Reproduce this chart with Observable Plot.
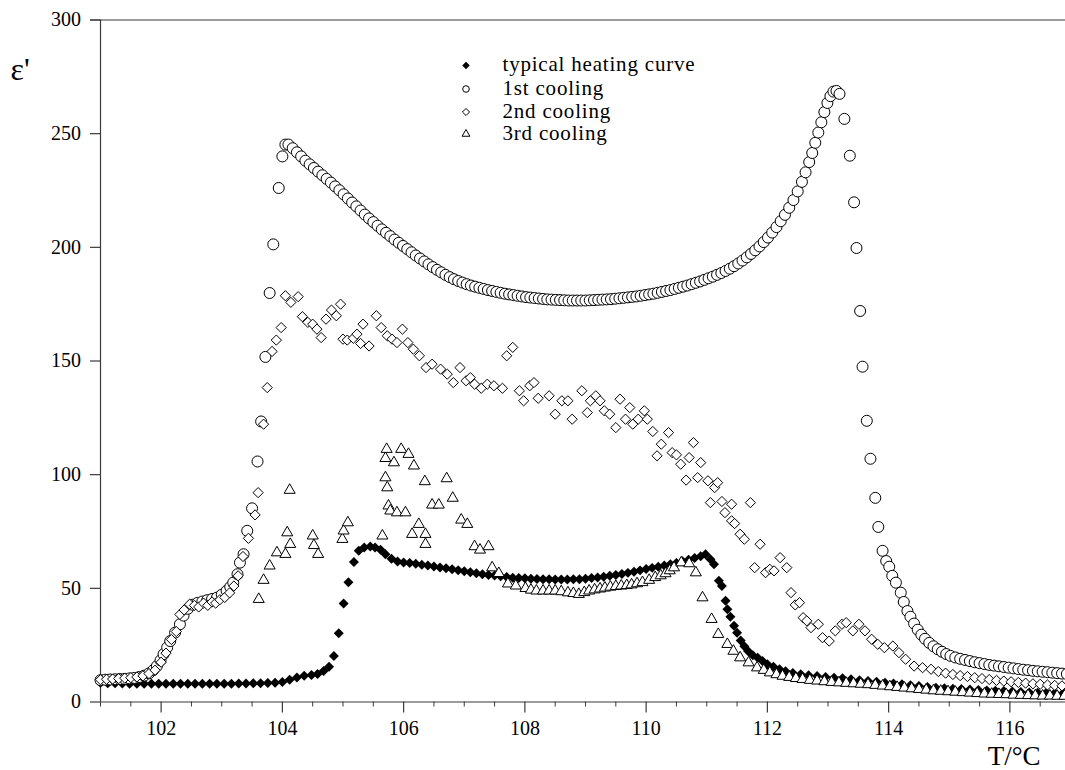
<!DOCTYPE html>
<html>
<head>
<meta charset="utf-8">
<script src="https://cdn.jsdelivr.net/npm/d3@7"></script>
<script src="https://cdn.jsdelivr.net/npm/@observablehq/plot@0.6"></script>
<style>
  html, body { margin: 0; padding: 0; background: #fff; }
  svg { display: block; }
</style>
</head>
<body>
<div id="chart"></div>
<script>
// ---- data (T in °C, ε') ----
const heating = [[101.00,8.5],[101.12,8.3],[101.24,8.2],[101.36,8.1],[101.48,8.0],[101.60,8.0],[101.72,8.0],[101.84,8.0],[101.96,8.0],[102.08,8.0],[102.20,8.0],[102.32,8.0],[102.44,8.0],[102.56,8.0],[102.68,8.0],[102.80,8.0],[102.92,8.0],[103.04,8.0],[103.16,8.0],[103.28,8.1],[103.40,8.1],[103.52,8.2],[103.64,8.3],[103.76,8.4],[103.88,8.5],[104.00,8.8],[104.12,9.8],[104.24,10.8],[104.36,11.5],[104.48,11.9],[104.58,12.3],[104.68,13.6],[104.77,15.5],[104.85,20.2],[104.93,30.2],[105.01,43.3],[105.09,52.7],[105.18,61.6],[105.26,66.5],[105.35,68.0],[105.45,68.4],[105.53,68.0],[105.62,67.0],[105.70,65.0],[105.80,63.0],[105.90,61.8],[106.0,61.4],[106.1,61.1],[106.2,60.8],[106.3,60.4],[106.4,60.0],[106.5,59.6],[106.6,59.2],[106.7,58.8],[106.8,58.4],[106.9,58.0],[107.0,57.5],[107.1,57.1],[107.2,56.6],[107.3,56.2],[107.4,55.9],[107.5,55.6],[107.6,55.3],[107.7,55.0],[107.8,54.7],[107.9,54.5],[108.0,54.4],[108.1,54.2],[108.2,54.1],[108.3,54.0],[108.4,54.0],[108.5,53.9],[108.6,53.9],[108.7,53.9],[108.8,54.0],[108.9,54.0],[109.0,54.2],[109.1,54.5],[109.2,54.8],[109.3,55.1],[109.4,55.5],[109.5,55.9],[109.6,56.3],[109.7,56.8],[109.8,57.3],[109.9,57.9],[110.0,58.5],[110.1,59.0],[110.2,59.5],[110.3,60.0],[110.4,60.6],[110.5,61.2],[110.6,61.9],[110.7,62.6],[110.8,63.3],[110.9,64.1],[110.98,65.0],[111.06,62.8],[111.12,60.6],[111.20,53.3],[111.25,51.0],[111.31,44.5],[111.34,40.8],[111.39,37.5],[111.45,33.5],[111.50,30.5],[111.56,27.0],[111.62,24.5],[111.68,22.4],[111.76,20.6],[111.84,19.5],[111.92,18.0],[112.00,16.6],[112.10,15.5],[112.20,14.4],[112.30,13.5],[112.42,12.8],[112.55,12.2],[112.68,11.8],[112.82,11.4],[112.96,11.0],[113.10,10.7],[113.24,10.4],[113.38,10.0],[113.52,9.6],[113.66,9.2],[113.80,8.9],[113.94,8.5],[114.08,8.1],[114.22,7.8],[114.36,7.4],[114.50,7.0],[114.64,6.6],[114.78,6.3],[114.92,6.0],[115.06,5.8],[115.20,5.7],[115.34,5.5],[115.48,5.3],[115.62,5.1],[115.76,4.9],[115.90,4.8],[116.04,4.6],[116.18,4.4],[116.32,4.2],[116.46,4.1],[116.60,4.1],[116.74,4.0],[116.88,4.0]];

const cooling1 = [[101.00,9.6],[101.08,9.8],[101.16,9.9],[101.24,10.0],[101.32,10.1],[101.40,10.2],[101.48,10.4],[101.56,10.6],[101.64,11.0],[101.72,11.6],[101.80,12.6],[101.87,14.0],[101.93,15.8],[101.99,18.3],[102.04,21.0],[102.10,24.0],[102.15,26.8],[102.23,30.5],[102.31,34.2],[102.37,38.0],[102.44,41.0],[102.52,42.8],[102.60,43.6],[102.68,44.2],[102.76,44.8],[102.84,45.3],[102.92,45.9],[103.00,47.2],[103.08,48.9],[103.14,50.6],[103.19,52.5],[103.26,56.2],[103.30,61.3],[103.36,65.0],[103.42,75.3],[103.50,85.2],[103.59,105.8],[103.65,123.4],[103.72,151.8],[103.79,179.9],[103.85,201.3],[103.94,226.1],[104.00,240.0],[104.05,245.2],[104.10,245.2],[104.17,243.6],[104.24,241.8],[104.31,240.0],[104.38,238.1],[104.45,236.5],[104.52,234.9],[104.59,233.3],[104.66,231.7],[104.73,230.1],[104.80,228.5],[104.87,226.8],[104.94,225.1],[105.01,223.3],[105.08,221.5],[105.15,219.7],[105.22,218.0],[105.29,216.2],[105.36,214.4],[105.43,212.7],[105.50,211.1],[105.57,209.5],[105.64,207.9],[105.71,206.4],[105.78,204.9],[105.85,203.4],[105.92,202.0],[105.99,200.6],[106.06,199.2],[106.13,197.8],[106.20,196.4],[106.27,195.1],[106.34,193.8],[106.41,192.5],[106.48,191.3],[106.55,190.1],[106.62,189.0],[106.69,187.9],[106.76,186.9],[106.83,186.0],[106.90,185.2],[106.97,184.5],[107.04,183.8],[107.11,183.2],[107.18,182.7],[107.25,182.2],[107.32,181.7],[107.39,181.2],[107.46,180.8],[107.53,180.4],[107.60,180.0],[107.67,179.6],[107.74,179.3],[107.81,179.0],[107.88,178.7],[107.95,178.4],[108.02,178.1],[108.09,177.9],[108.16,177.7],[108.23,177.5],[108.30,177.3],[108.37,177.1],[108.44,177.0],[108.51,176.9],[108.58,176.8],[108.65,176.7],[108.72,176.6],[108.79,176.6],[108.86,176.6],[108.93,176.6],[109.00,176.6],[109.07,176.7],[109.14,176.8],[109.21,176.9],[109.28,177.0],[109.35,177.1],[109.42,177.2],[109.49,177.4],[109.56,177.6],[109.63,177.8],[109.70,178.0],[109.77,178.2],[109.84,178.4],[109.91,178.7],[109.98,179.0],[110.05,179.3],[110.12,179.6],[110.19,180.0],[110.26,180.4],[110.33,180.8],[110.40,181.2],[110.47,181.7],[110.54,182.2],[110.61,182.7],[110.68,183.2],[110.75,183.8],[110.82,184.4],[110.89,185.0],[110.96,185.7],[111.03,186.4],[111.10,187.1],[111.17,187.9],[111.24,188.7],[111.31,189.6],[111.38,190.6],[111.45,191.7],[111.52,192.9],[111.59,194.2],[111.66,195.6],[111.73,197.1],[111.80,198.7],[111.87,200.4],[111.94,202.3],[112.01,204.3],[112.08,206.5],[112.15,208.9],[112.22,211.5],[112.29,214.3],[112.36,217.4],[112.43,220.8],[112.50,224.6],[112.57,228.8],[112.63,233.0],[112.69,237.5],[112.74,241.5],[112.79,246.0],[112.84,250.5],[112.89,255.0],[112.94,259.5],[112.99,263.5],[113.04,266.5],[113.09,268.5],[113.14,268.8],[113.19,267.5],[113.27,256.5],[113.36,240.3],[113.43,219.8],[113.47,199.7],[113.53,172.0],[113.57,147.5],[113.64,123.7],[113.70,107.0],[113.78,89.8],[113.83,77.0],[113.90,66.5],[113.96,62.0],[114.01,59.5],[114.06,55.5],[114.12,52.5],[114.20,48.1],[114.25,44.0],[114.31,40.0],[114.36,37.5],[114.42,34.5],[114.48,31.8],[114.54,29.6],[114.60,27.8],[114.67,26.0],[114.74,24.5],[114.81,23.2],[114.88,22.1],[114.95,21.1],[115.02,20.3],[115.10,19.6],[115.18,19.0],[115.26,18.5],[115.34,18.0],[115.42,17.5],[115.50,17.1],[115.58,16.7],[115.66,16.3],[115.74,16.0],[115.82,15.7],[115.90,15.4],[115.98,15.1],[116.06,14.8],[116.14,14.5],[116.22,14.2],[116.30,14.0],[116.38,13.7],[116.46,13.5],[116.54,13.3],[116.62,13.1],[116.70,12.9],[116.78,12.7],[116.86,12.5],[116.94,12.3]];

const cooling2 = [[101.00,9.8],[101.10,10.0],[101.20,10.1],[101.30,10.3],[101.40,10.5],[101.50,10.7],[101.60,11.0],[101.70,11.5],[101.80,12.5],[101.90,14.0],[102.00,17.5],[102.08,21.5],[102.17,27.5],[102.25,31.0],[102.31,38.5],[102.38,40.5],[102.47,43.0],[102.55,42.5],[102.62,41.8],[102.70,43.5],[102.77,42.5],[102.84,44.0],[102.90,43.5],[102.97,45.0],[103.05,46.0],[103.13,48.0],[103.20,51.0],[103.27,55.5],[103.35,64.0],[103.44,72.0],[103.55,82.3],[103.60,92.1],[103.69,122.2],[103.75,138.3],[103.83,154.2],[103.90,159.2],[103.98,164.7],[104.05,178.7],[104.14,175.8],[104.26,178.3],[104.33,169.5],[104.42,167.0],[104.50,166.2],[104.57,164.0],[104.64,160.3],[104.72,168.4],[104.81,172.4],[104.89,169.9],[104.96,175.0],[105.00,159.6],[105.07,159.2],[105.17,160.0],[105.23,161.8],[105.29,157.7],[105.33,166.2],[105.43,156.6],[105.55,169.9],[105.63,164.7],[105.73,161.1],[105.81,159.6],[105.89,158.1],[105.98,164.0],[106.07,158.1],[106.16,155.2],[106.26,152.3],[106.37,147.1],[106.47,148.6],[106.61,146.4],[106.72,144.2],[106.82,140.5],[106.93,147.1],[107.03,141.3],[107.10,142.7],[107.17,139.8],[107.28,138.0],[107.38,139.8],[107.49,139.1],[107.63,138.0],[107.70,152.3],[107.80,156.0],[107.91,136.9],[107.98,132.5],[108.08,139.1],[108.15,140.5],[108.22,133.6],[108.40,134.7],[108.50,126.6],[108.61,132.5],[108.71,132.5],[108.78,124.4],[108.94,136.9],[109.03,127.3],[109.08,132.5],[109.17,134.7],[109.24,132.5],[109.31,128.1],[109.40,126.6],[109.50,120.7],[109.57,133.2],[109.66,124.4],[109.73,129.5],[109.78,122.2],[109.87,124.4],[109.97,128.1],[110.02,124.4],[110.11,119.0],[110.18,108.3],[110.25,113.4],[110.37,118.5],[110.43,109.7],[110.50,108.7],[110.57,104.6],[110.66,97.6],[110.71,107.5],[110.78,114.1],[110.85,98.7],[110.90,105.3],[111.02,97.3],[111.06,87.7],[111.13,94.3],[111.18,96.5],[111.25,88.2],[111.30,83.3],[111.41,87.0],[111.41,79.7],[111.46,78.5],[111.55,73.8],[111.62,71.6],[111.72,87.7],[111.79,59.1],[111.88,69.4],[111.97,56.9],[112.04,58.4],[112.11,57.7],[112.21,63.5],[112.32,59.1],[112.39,48.1],[112.46,42.7],[112.53,43.7],[112.59,37.1],[112.65,35.7],[112.72,32.7],[112.84,34.2],[112.91,28.3],[113.02,26.8],[113.12,31.3],[113.23,34.2],[113.30,34.9],[113.41,31.3],[113.51,34.2],[113.61,31.3],[113.72,27.6],[113.82,25.4],[113.93,23.9],[114.07,24.6],[114.17,21.7],[114.28,18.8],[114.42,15.8],[114.56,15.1],[114.70,14.4],[114.82,13.4],[114.94,12.7],[115.06,12.1],[115.18,11.6],[115.30,11.2],[115.42,10.7],[115.54,10.3],[115.66,9.9],[115.78,9.5],[115.90,9.2],[116.02,8.9],[116.14,8.6],[116.26,8.3],[116.38,8.0],[116.50,7.8],[116.62,7.5],[116.74,7.3],[116.86,7.1]];

const cooling3 = [[103.61,45.2],[103.69,53.6],[103.79,59.9],[103.91,65.7],[104.05,65.0],[104.08,74.5],[104.12,93.2],[104.13,69.4],[104.50,73.1],[104.52,68.9],[104.59,65.0],[104.99,71.6],[105.01,75.3],[105.08,78.9],[105.65,73.1],[105.70,107.2],[105.72,111.2],[105.70,98.7],[105.73,94.3],[105.75,86.3],[105.78,84.1],[105.84,105.3],[105.89,83.3],[105.96,111.2],[106.03,83.3],[106.08,109.0],[106.14,73.8],[106.17,103.9],[106.25,78.2],[106.35,97.0],[106.36,73.8],[106.36,69.4],[106.47,86.7],[106.58,86.7],[106.71,98.3],[106.81,89.7],[106.95,80.1],[107.05,78.2],[107.17,68.4],[107.26,66.9],[107.40,68.4],[107.46,59.1],[107.57,56.6],[107.72,52.0],[107.85,51.1],[108.01,50.0],[108.10,49.3],[108.19,48.9],[108.30,48.9],[108.40,48.9],[108.50,48.9],[108.60,48.6],[108.71,48.1],[108.80,47.8],[108.89,47.4],[108.98,48.2],[109.06,48.9],[109.15,49.4],[109.24,49.8],[109.32,50.2],[109.41,50.6],[109.50,50.9],[109.59,51.1],[109.68,51.3],[109.76,51.6],[109.85,52.1],[109.94,52.6],[110.05,53.6],[110.15,54.8],[110.24,55.6],[110.32,56.5],[110.39,57.8],[110.46,59.1],[110.58,61.3],[110.71,60.9],[110.82,56.9],[110.93,45.9],[111.08,36.4],[111.19,29.8],[111.34,25.4],[111.44,22.4],[111.55,19.5],[111.69,17.3],[111.83,15.1],[111.94,14.0],[112.04,12.9],[112.15,12.1],[112.25,11.4],[112.36,10.9],[112.47,10.4],[112.58,10.0],[112.70,9.6],[112.82,9.3],[112.94,9.0],[113.06,8.7],[113.18,8.5],[113.30,8.3],[113.42,8.1],[113.54,7.9],[113.66,7.7],[113.78,7.4],[113.90,7.1],[114.02,6.8],[114.14,6.5],[114.26,6.2],[114.38,5.9],[114.50,5.6],[114.62,5.3],[114.74,5.0],[114.86,4.8],[114.98,4.6],[115.10,4.4],[115.22,4.2],[115.34,4.0],[115.46,3.8],[115.58,3.6],[115.70,3.5],[115.82,3.4],[115.94,3.3],[116.06,3.1],[116.18,3.0],[116.30,2.9],[116.42,2.8],[116.54,2.7],[116.66,2.7],[116.78,2.6],[116.90,2.6]];

const xTicks = [102, 104, 106, 108, 110, 112, 114, 116];
const xMinorTicks = [101, 101.5, 102.5, 103, 103.5, 104.5, 105, 105.5, 106.5, 107, 107.5, 108.5, 109, 109.5, 110.5, 111, 111.5, 112.5, 113, 113.5, 114.5, 115, 115.5, 116.5];
const yTicks = [0, 50, 100, 150, 200, 250, 300];
const legendLabels = ["typical heating curve", "1st cooling", "2nd cooling", "3rd cooling"];
const xLabel = "T/°C";
const yLabel = "ε'";

// ---- styles ----
const FONT = "'Liberation Serif', 'Times New Roman', serif";
const AX = "#3a3a3a";

const legendStyles = [
  {symbol: "diamond2", fill: "black", stroke: "none", r: 3.4},
  {symbol: "circle", fill: "white", stroke: "black", r: 3.3},
  {symbol: "diamond2", fill: "white", stroke: "black", r: 3.2},
  {symbol: "triangle", fill: "white", stroke: "black", r: 2.9}
];
const legendRowDy = [45.5, 69, 92, 114];

const chart = Plot.plot({
  width: 1065,
  height: 770,
  marginLeft: 100,
  marginRight: -5,
  marginTop: 19.5,
  marginBottom: 68.5,
  style: {fontFamily: FONT, fontSize: "20px", color: "black", background: "white"},
  x: {domain: [101, 117], axis: null},
  y: {domain: [0, 300], axis: null},
  marks: [
    // axis frame lines
    Plot.ruleY([0], {stroke: AX, strokeWidth: 1.2}),
    Plot.ruleY([300], {stroke: AX, strokeWidth: 1.2, insetLeft: -10}),
    Plot.ruleX([101], {y1: 0, y2: 300, stroke: AX, strokeWidth: 1.2}),
    // y ticks and labels
    Plot.ruleY(yTicks, {x1: 101, x2: 101, insetLeft: -10, stroke: AX, strokeWidth: 1.2}),
    Plot.text(yTicks, {y: d => d, text: d => String(d), frameAnchor: "left", lineAnchor: "middle", dx: -19.5, textAnchor: "end", fontSize: 20}),
    // x ticks and labels
    Plot.ruleX(xTicks, {y1: 0, y2: 0, insetBottom: -11, stroke: AX, strokeWidth: 1.2}),
    Plot.ruleX(xMinorTicks, {y1: 0, y2: 0, insetBottom: -5, stroke: AX, strokeWidth: 1}),
    Plot.text(xTicks, {x: d => d, text: d => String(d), frameAnchor: "bottom", lineAnchor: "middle", dy: 27, fontSize: 20}),
    // axis titles
    Plot.text([yLabel], {x: null, y: null, text: d => d, frameAnchor: "top-left", lineAnchor: "middle", dx: -90, dy: 50, textAnchor: "start", fontSize: 32}),
    Plot.text([xLabel], {x: null, y: null, text: d => d, frameAnchor: "bottom-right", lineAnchor: "middle", dx: -30, dy: 54.5, textAnchor: "end", fontSize: 27}),
    // data
    Plot.dot(heating, {x: d => d[0], y: d => d[1], symbol: "diamond2", r: 4.5, fill: "black", stroke: "none"}),
    Plot.dot(cooling1, {x: d => d[0], y: d => d[1], symbol: "circle", r: 5.5, fill: "white", stroke: "black", strokeWidth: 1}),
    Plot.dot(cooling2, {x: d => d[0], y: d => d[1], symbol: "diamond2", r: 4.6, fill: "white", stroke: "black", strokeWidth: 1}),
    Plot.dot(cooling3, {x: d => d[0], y: d => d[1], symbol: "triangle", r: 4.1, fill: "white", stroke: "black", strokeWidth: 1}),
    // legend
    ...legendStyles.map((s, i) => Plot.dot([legendLabels[i]], {x: null, y: null, frameAnchor: "top-left", dx: 365.5, dy: legendRowDy[i], symbol: s.symbol, r: s.r, fill: s.fill, stroke: s.stroke, strokeWidth: 1})),
    ...legendLabels.map((t, i) => Plot.text([t], {x: null, y: null, text: d => d, frameAnchor: "top-left", lineAnchor: "middle", dx: 402, dy: legendRowDy[i] - 1, textAnchor: "start", fontSize: 21}))
  ]
});
// widen legend lettering slightly, like the reference typeface
d3.select(chart).selectAll("text").filter(function () { return legendLabels.includes(this.textContent); }).style("letter-spacing", "0.8px");
document.getElementById("chart").appendChild(chart);
</script>
</body>
</html>
